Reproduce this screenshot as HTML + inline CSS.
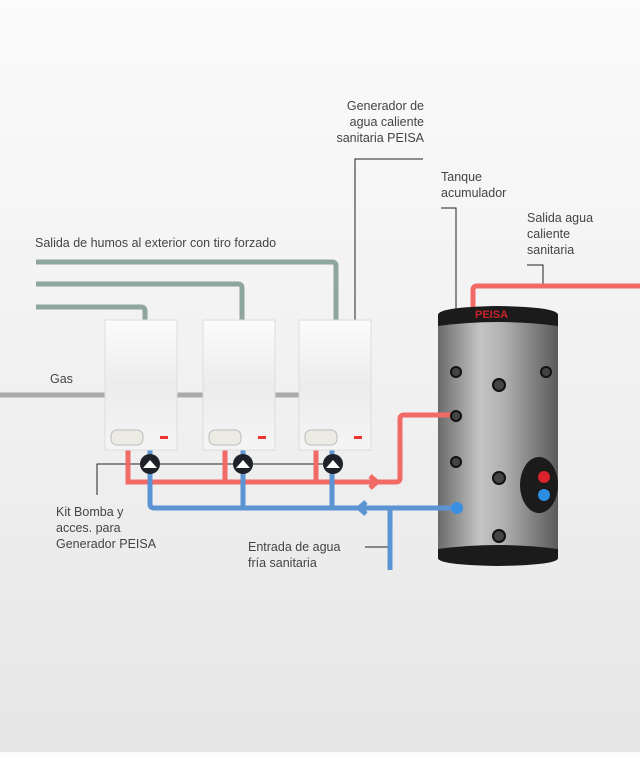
<!DOCTYPE html>
<html><head><meta charset="utf-8"><style>
html,body{margin:0;padding:0}
body{width:640px;height:752px;overflow:hidden;background:linear-gradient(#fbfbfb,#efefef 60%,#e6e6e6);font-family:"Liberation Sans",sans-serif;}
</style></head><body>
<svg width="640" height="752" viewBox="0 0 640 752" xmlns="http://www.w3.org/2000/svg" font-family="Liberation Sans, sans-serif" font-size="12.5" fill="#444">
<defs>
<linearGradient id="b" x1="0" y1="0" x2="0" y2="1"><stop offset="0" stop-color="#fcfcfc"/><stop offset="0.5" stop-color="#ececec"/><stop offset="1" stop-color="#f5f5f5"/></linearGradient>
<linearGradient id="t" x1="0" y1="0" x2="1" y2="0"><stop offset="0" stop-color="#6a6a6a"/><stop offset="0.35" stop-color="#c4c4c4"/><stop offset="0.55" stop-color="#b0b0b0"/><stop offset="1" stop-color="#5a5a5a"/></linearGradient>
</defs>
<g fill="none" stroke="#8fa5a0" stroke-width="5">
<path d="M36 262 H332 Q336 262 336 266 V322"/>
<path d="M36 284 H238 Q242 284 242 288 V322"/>
<path d="M36 307 H141 Q145 307 145 311 V322"/>
</g>
<path d="M0 395 H300" stroke="#aaa" stroke-width="5"/>
<g fill="none" stroke="#222" stroke-width="1">
<path d="M423 159 H355 V320"/>
<path d="M441 208 H456 V310"/>
<path d="M527 265 H543 V286"/>
<path d="M97 495 V464 H335"/>
<path d="M390 547 H365"/>
</g>
<g fill="none" stroke="#f26a66" stroke-width="5">
<path d="M128 448 V482 H396 Q400 482 400 478 V419 Q400 415 404 415 H440"/>
<path d="M225 448 V482"/><path d="M316 448 V482"/>
<path d="M370 476 L377 482 L370 488"/>
<path d="M473 310 V290 Q473 286 477 286 H640"/>
</g>
<g fill="none" stroke="#5b93d3" stroke-width="5">
<path d="M150 448 V504 Q150 508 154 508 H440"/>
<path d="M243 448 V508"/><path d="M332 448 V508"/>
<path d="M390 508 V570"/>
<path d="M366 502 L359 508 L366 514"/>
</g>
<g>
<rect x="105" y="320" width="72" height="130" fill="url(#b)" stroke="#ddd"/>
<rect x="203" y="320" width="72" height="130" fill="url(#b)" stroke="#ddd"/>
<rect x="299" y="320" width="72" height="130" fill="url(#b)" stroke="#ddd"/>
<rect x="111" y="430" width="32" height="15" rx="6" fill="#ecebe4" stroke="#bbb"/>
<rect x="209" y="430" width="32" height="15" rx="6" fill="#ecebe4" stroke="#bbb"/>
<rect x="305" y="430" width="32" height="15" rx="6" fill="#ecebe4" stroke="#bbb"/>
<rect x="160" y="436" width="8" height="3" fill="#e33"/>
<rect x="258" y="436" width="8" height="3" fill="#e33"/>
<rect x="354" y="436" width="8" height="3" fill="#e33"/>
</g>
<g fill="#1e2228"><circle cx="150" cy="464" r="10"/><circle cx="243" cy="464" r="10"/><circle cx="333" cy="464" r="10"/></g>
<g fill="#fff"><path d="M143 468 L150 460 L157 468Z"/><path d="M236 468 L243 460 L250 468Z"/><path d="M326 468 L333 460 L340 468Z"/></g>
<rect x="438" y="315" width="120" height="244" fill="url(#t)"/>
<path d="M438 326 V315 Q438 307 498 306 Q558 307 558 315 V326 Q498 318 438 326Z" fill="#1b1b1b"/>
<path d="M438 549 Q498 541 558 549 V558 Q558 565 498 566 Q438 565 438 558Z" fill="#1b1b1b"/>
<text x="475" y="318" font-size="11" font-weight="bold" fill="#c8232a">PEISA</text>
<path d="M436 415 H455" stroke="#f26a66" stroke-width="5"/>
<path d="M436 508 H455" stroke="#5b93d3" stroke-width="5"/>
<g fill="#444" stroke="#111" stroke-width="2">
<circle cx="456" cy="372" r="5"/><circle cx="499" cy="385" r="6"/><circle cx="546" cy="372" r="5"/>
<circle cx="456" cy="416" r="5"/><circle cx="456" cy="462" r="5"/><circle cx="499" cy="478" r="6"/>
<circle cx="499" cy="536" r="6"/>
</g>
<ellipse cx="539" cy="485" rx="19" ry="28" fill="#1b1b1b"/>
<circle cx="544" cy="477" r="6" fill="#d8232a"/><circle cx="544" cy="495" r="6" fill="#2a8de0"/>
<circle cx="457" cy="508" r="6" fill="#3a8fe0"/>
<g>
<text x="424" y="110" text-anchor="end">Generador de</text>
<text x="424" y="126" text-anchor="end">agua caliente</text>
<text x="424" y="142" text-anchor="end">sanitaria PEISA</text>
<text x="441" y="181">Tanque</text>
<text x="441" y="197">acumulador</text>
<text x="527" y="222">Salida agua</text>
<text x="527" y="238">caliente</text>
<text x="527" y="254">sanitaria</text>
<text x="35" y="247">Salida de humos al exterior con tiro forzado</text>
<text x="50" y="383">Gas</text>
<text x="56" y="516">Kit Bomba y</text>
<text x="56" y="532">acces. para</text>
<text x="56" y="548">Generador PEISA</text>
<text x="248" y="551">Entrada de agua</text>
<text x="248" y="567">fría sanitaria</text>
</g>
</svg>
</body></html>
